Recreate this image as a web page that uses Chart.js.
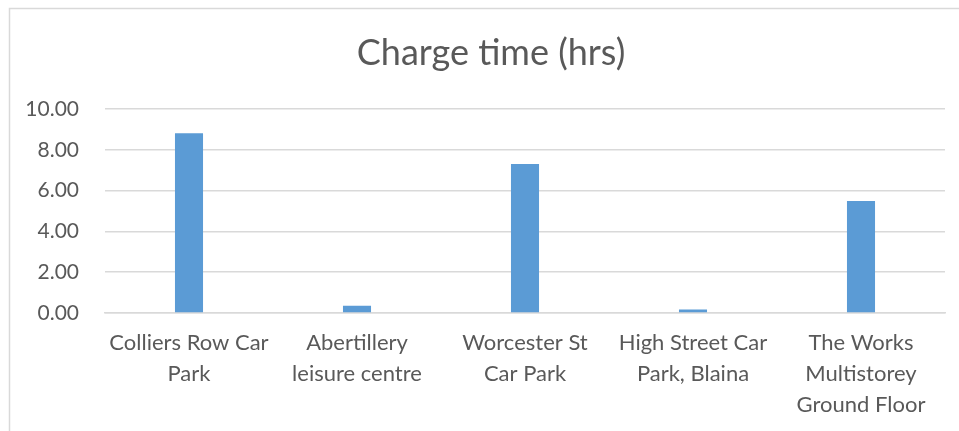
<!DOCTYPE html>
<html>
<head>
<meta charset="utf-8">
<script src="https://cdn.jsdelivr.net/npm/chart.js@4"></script>
<style>
html,body{margin:0;padding:0;background:#fff;}
#wrap{width:959px;height:431px;}
</style>
</head>
<body>
<div id="wrap"><canvas id="c" width="959" height="431"></canvas></div>
<script>
const categories = [
  ['Colliers Row Car', 'Park'],
  ['Abertillery', 'leisure centre'],
  ['Worcester St', 'Car Park'],
  ['High Street Car', 'Park, Blaina'],
  ['The Works', 'Multistorey', 'Ground Floor']
];
const chargeTimes = [8.82, 0.35, 7.31, 0.17, 5.49];
const yTicks = [0, 2, 4, 6, 8, 10];
const titleText = 'Charge time (hrs)';

const FONT = 'Lato, "Open Sans", sans-serif';
const TEXT = '#595959';
const GRID = '#d9d9d9';

const borderPlugin = {
  id: 'outerBorder',
  afterLayout(chart) {
    const t = chart.titleBlock;
    if (t) { t.right = 973; t.width = t.right - t.left; }
  },
  beforeDraw(chart) {
    const ctx = chart.ctx;
    ctx.save();
    ctx.fillStyle = '#fff';
    ctx.fillRect(0, 0, chart.width, chart.height);
    ctx.strokeStyle = GRID;
    ctx.lineWidth = 1.5;
    ctx.strokeRect(9.5, 8.5, 1100, 600);
    ctx.restore();
  }
};

new Chart(document.getElementById('c'), {
  type: 'bar',
  data: {
    labels: categories,
    datasets: [{
      label: titleText,
      data: chargeTimes,
      backgroundColor: '#5b9bd5',
      borderWidth: 0,
      categoryPercentage: 1,
      barPercentage: 0.167
    }]
  },
  options: {
    responsive: false,
    animation: false,
    devicePixelRatio: 1,
    layout: { padding: { left: 9, right: 14, top: 0, bottom: 0 } },
    plugins: {
      legend: { display: false },
      tooltip: { enabled: false },
      title: {
        display: true,
        text: titleText,
        color: TEXT,
        font: { family: FONT, size: 36, weight: 'normal', lineHeight: 1.2 },
        padding: { top: 32, bottom: 34 }
      }
    },
    scales: {
      x: {
        grid: { display: false, drawTicks: false },
        border: { display: true, color: GRID, width: 1.5 },
        ticks: {
          color: TEXT,
          font: { family: FONT, size: 22, lineHeight: 1.42 },
          padding: 14,
          maxRotation: 0,
          autoSkip: false
        },
        afterFit(scale) { scale.height = 118; }
      },
      y: {
        min: 0,
        max: 10,
        afterBuildTicks(scale) { scale.ticks = yTicks.map(v => ({ value: v })); },
        grid: { color: GRID, lineWidth: 1.5, drawTicks: false },
        border: { display: false },
        ticks: {
          color: TEXT,
          font: { family: FONT, size: 21 },
          padding: 26,
          callback: v => Number(v).toFixed(2)
        },
        afterFit(scale) { scale.width = 96; }
      }
    }
  },
  plugins: [borderPlugin]
});
</script>
</body>
</html>
